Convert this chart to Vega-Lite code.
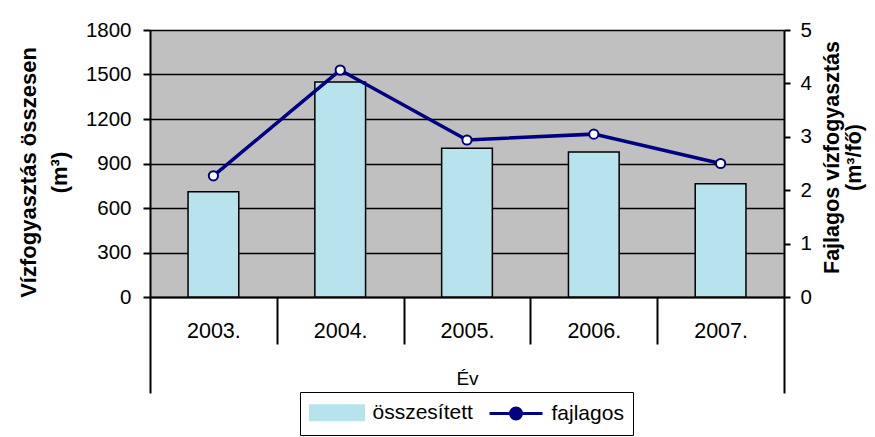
{
  "$schema": "https://vega.github.io/schema/vega-lite/v6.json",
  "width": 634,
  "height": 267,
  "autosize": {"type": "none"},
  "padding": {"left": 150, "top": 30, "right": 91, "bottom": 140},
  "background": "white",
  "config": {
    "font": "Liberation Sans",
    "view": {"fill": "#C0C0C0", "stroke": null},
    "axis": {
      "labelFont": "Liberation Sans",
      "titleFont": "Liberation Sans",
      "labelColor": "black",
      "titleColor": "black",
      "domainColor": "black",
      "tickColor": "black",
      "domainWidth": 2,
      "tickWidth": 2
    }
  },
  "data": {
    "values": [
      {"ev": "2003.", "osszesitett": 710, "fajlagos": 2.27},
      {"ev": "2004.", "osszesitett": 1450, "fajlagos": 4.25},
      {"ev": "2005.", "osszesitett": 1002, "fajlagos": 2.94},
      {"ev": "2006.", "osszesitett": 977, "fajlagos": 3.05},
      {"ev": "2007.", "osszesitett": 763, "fajlagos": 2.5}
    ]
  },
  "layer": [
    {
      "mark": {"type": "bar", "width": {"band": 0.4}, "stroke": "black", "strokeWidth": 1.5},
      "encoding": {
        "x": {
          "field": "ev", "type": "ordinal", "sort": null,
          "scale": {"paddingInner": 0, "paddingOuter": 0},
          "axis": {
            "title": "Év", "titleFontSize": 19, "titleFontWeight": "normal",
            "titleY": 72, "titleBaseline": "top",
            "labelFontSize": 21.5, "labelAngle": 0,
            "labelPadding": {"condition": {"test": "datum.index === 1", "value": -73}, "value": -24},
            "tickBand": "extent",
            "tickSize": {"condition": {"test": "datum.index === 1 || datum.index === -1", "value": 96}, "value": 47}
          }
        },
        "y": {
          "field": "osszesitett", "type": "quantitative",
          "scale": {"domain": [0, 1800], "nice": false},
          "axis": {
            "title": ["Vízfogyasztás összesen", "(m³)"],
            "titleFontSize": 22, "titleFontWeight": "bold",
            "titleAngle": 270, "titleLineHeight": 31,
            "titleX": -122, "titleY": 142, "titleAlign": "center", "titleBaseline": "middle",
            "values": [0, 300, 600, 900, 1200, 1500, 1800], "format": "d",
            "labelFontSize": 20.5, "labelPadding": 12, "tickSize": 7,
            "grid": true, "gridColor": "black", "gridWidth": 1.5, "gridOpacity": 1
          }
        },
        "color": {
          "datum": "összesített",
          "scale": {"domain": ["összesített", "fajlagos"], "range": ["#B6E3EC", "#000080"]},
          "legend": {
            "title": null, "orient": "none", "legendX": 150, "legendY": 362,
            "direction": "horizontal",
            "strokeColor": "black", "padding": 9,
            "labelFont": "Liberation Sans", "labelFontSize": 21, "labelColor": "black",
            "symbolSize": 400, "symbolOffset": 16.5, "labelOffset": 24, "columnPadding": 10,
            "symbolStrokeWidth": 3,
            "encode": {
              "symbols": {
                "update": {
                  "shape": {"signal": "datum.value === 'fajlagos' ? 'M-2.65,0H-0.55M0.55,0H2.65M0.55,0A0.55,0.55,0,1,1,-0.55,0A0.55,0.55,0,1,1,0.55,0' : 'M-2.65,-0.7H2.65V0.7H-2.65Z'"},
                  "opacity": {"value": 1}
                }
              }
            }
          }
        }
      }
    },
    {
      "mark": {
        "type": "line", "strokeWidth": 3.5,
        "point": {"filled": true, "fill": "white", "stroke": "#000080", "strokeWidth": 2, "size": 85}
      },
      "encoding": {
        "x": {"field": "ev", "type": "ordinal", "sort": null},
        "y": {
          "field": "fajlagos", "type": "quantitative",
          "scale": {"domain": [0, 5], "nice": false},
          "axis": {
            "orient": "right",
            "title": ["Fajlagos vízfogyasztás", "(m³/fő)"],
            "titleFontSize": 21.5, "titleFontWeight": "bold",
            "titleAngle": 270, "titleLineHeight": 22,
            "titleX": 48, "titleY": 127, "titleAlign": "center", "titleBaseline": "middle",
            "values": [0, 1, 2, 3, 4, 5],
            "labelFontSize": 20.5, "labelPadding": 10, "tickSize": 6,
            "grid": false
          }
        },
        "color": {
          "datum": "fajlagos",
          "legend": {
            "title": null, "orient": "none", "legendX": 150, "legendY": 362,
            "direction": "horizontal",
            "strokeColor": "black", "padding": 9,
            "labelFont": "Liberation Sans", "labelFontSize": 21, "labelColor": "black",
            "symbolSize": 400, "symbolOffset": 16.5, "labelOffset": 24, "columnPadding": 10,
            "symbolStrokeWidth": 3,
            "encode": {
              "symbols": {
                "update": {
                  "shape": {"signal": "datum.value === 'fajlagos' ? 'M-2.65,0H-0.55M0.55,0H2.65M0.55,0A0.55,0.55,0,1,1,-0.55,0A0.55,0.55,0,1,1,0.55,0' : 'M-2.65,-0.7H2.65V0.7H-2.65Z'"},
                  "opacity": {"value": 1}
                }
              }
            }
          }
        }
      }
    }
  ],
  "resolve": {"scale": {"y": "independent"}}
}
